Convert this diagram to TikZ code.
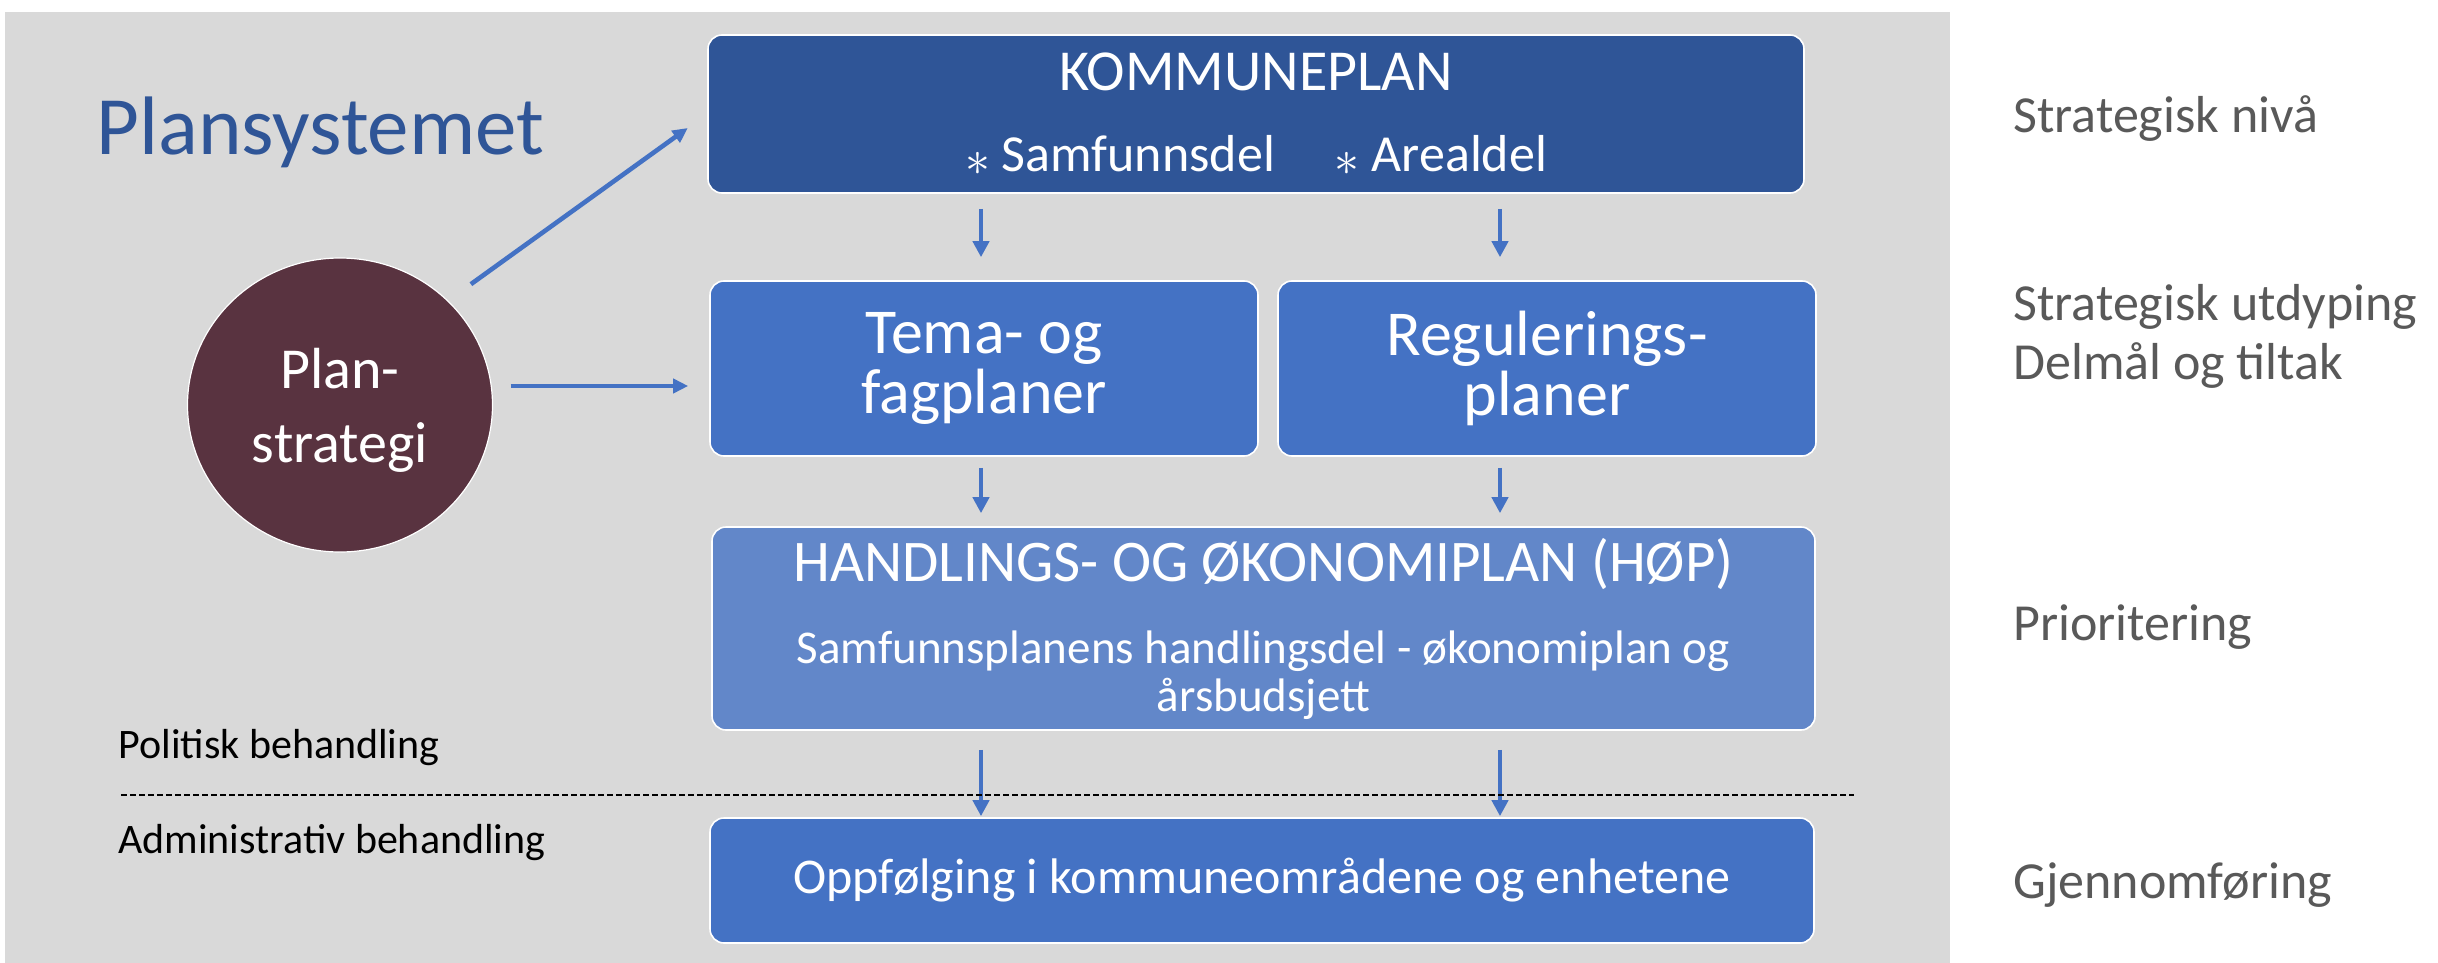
\documentclass[tikz,border=0pt]{standalone}
\usepackage{fontspec}
\setmainfont{Carlito}
\usetikzlibrary{arrows.meta, shapes.geometric}

\definecolor{slidegray}{RGB}{217,217,217}
\definecolor{darkblue}{RGB}{47,85,151}
\definecolor{midblue}{RGB}{68,114,196}
\definecolor{lightblue}{RGB}{98,135,201}
\definecolor{plumred}{RGB}{89,51,64}
\definecolor{labelgray}{RGB}{89,89,89}

\newcommand{\hopsub}{\fontsize{23.5}{24}\selectfont}

\tikzset{
  planbox/.style={rectangle, rounded corners=7pt, draw=white, line width=0.8pt, text=white, inner sep=0pt, align=center},
  flow/.style={-{Triangle[length=8pt,width=8pt]}, color=midblue, line width=2.4pt},
  feed/.style={-{Triangle[length=7.5pt,width=7pt]}, color=midblue, line width=2.3pt},
  sidelabel/.style={anchor=base west, inner sep=0pt, text=labelgray, align=left, font=\fontsize{26}{29.5}\selectfont},
  steplabel/.style={anchor=base west, inner sep=0pt, text=black, font=\fontsize{21}{25}\selectfont},
}

\begin{document}
\begin{tikzpicture}[x=0.5pt,y=0.5pt,yscale=-1,xscale=1]
\useasboundingbox (0,0) rectangle (2438,963);
\fill[white] (0,0) rectangle (2438,963);

%Shape: Rectangle [slide background]
\fill[slidegray] (5,12) rectangle (1950,963);

% Text Node
\node[anchor=base west, inner sep=0pt, text=darkblue, font=\fontsize{41.5}{48}\selectfont] (title) at (96,155) {Plansystemet};

%Shape: Rounded Rectangles
\node[planbox, fill=darkblue, minimum width=548pt, minimum height=79pt, font=\fontsize{29}{40.5}\selectfont] (kplan) at (1256,114)
  {KOMMUNEPLAN\\ \fontsize{26}{40.5}\selectfont\raisebox{-2pt}{$\ast$} Samfunnsdel\hspace{30pt}\raisebox{-2pt}{$\ast$} Arealdel};
\node[planbox, fill=midblue, minimum width=274pt, minimum height=87.5pt, font=\fontsize{32}{30}\selectfont] (tema) at (984,368.5) {Tema- og\\fagplaner};
\node[planbox, fill=midblue, minimum width=269pt, minimum height=87.5pt, font=\fontsize{32}{30}\selectfont] (reg) at (1547,368.5) {Regulerings-\\planer};
\node[planbox, fill=lightblue, minimum width=551.5pt, minimum height=101.5pt, font=\fontsize{29.5}{24}\selectfont] (hop) at (1263.5,628.5)
  {HANDLINGS- OG ØKONOMIPLAN (HØP)\\[17pt] \hopsub Samfunnsplanens handlingsdel - økonomiplan og\\ \hopsub årsbudsjett};
\node[planbox, fill=midblue, minimum width=552pt, minimum height=62.5pt, font=\fontsize{25}{30}\selectfont] (opp) at (1262,880.5) {Oppfølging i kommuneområdene og enhetene};

%Shape: Ellipse
\node[ellipse, fill=plumred, draw=white, line width=0.6pt, minimum width=152.5pt, minimum height=147pt, inner sep=0pt,
  text=white, align=center, text depth=0pt, font=\fontsize{29}{37}\selectfont] (circ) at (340,405) {Plan-\\strategi};

%Straight Lines
\coordinate (colA) at (981,0);
\coordinate (colB) at (1500,0);
\draw[flow, shorten <=7.5pt, shorten >=11.5pt] (kplan.south -| colA) -- (tema.north -| colA);
\draw[flow, shorten <=7.5pt, shorten >=11.5pt] (kplan.south -| colB) -- (reg.north -| colB);
\draw[flow, shorten <=5.5pt, shorten >=6.5pt] (tema.south -| colA) -- (hop.north -| colA);
\draw[flow, shorten <=5.5pt, shorten >=6.5pt] (reg.south -| colB) -- (hop.north -| colB);
\draw[flow, shorten <=9.5pt, shorten >=0.5pt] (hop.south -| colA) -- (opp.north -| colA);
\draw[flow, shorten <=9.5pt, shorten >=0.5pt] (hop.south -| colB) -- (opp.north -| colB);
\draw[feed, shorten <=14pt, shorten >=12pt] (circ.44) -- (kplan.west);
\draw[feed, shorten <=8.75pt, shorten >=10.5pt] ([yshift=-9.5pt]circ.east) -- ([yshift=8.75pt]tema.west);

%Straight Lines [dashed divider]
\draw[black, line width=1pt, dash pattern=on 3pt off 1.5pt] (121,795) -- (1854,795);

% Text Node
\node[steplabel] (politisk) at (118,758) {Politisk behandling};
% Text Node
\node[steplabel] (admin) at (118,853) {Administrativ behandling};

% Text Node
\node[sidelabel] (nivaa) at (2013,133) {Strategisk nivå};
% Text Node
\node[sidelabel] (utdyping) at (2013,379) {Strategisk utdyping\\Delmål og tiltak};
% Text Node
\node[sidelabel] (prio) at (2013,640) {Prioritering};
% Text Node
\node[sidelabel] (gjennom) at (2013,898) {Gjennomføring};

\end{tikzpicture}
\end{document}
